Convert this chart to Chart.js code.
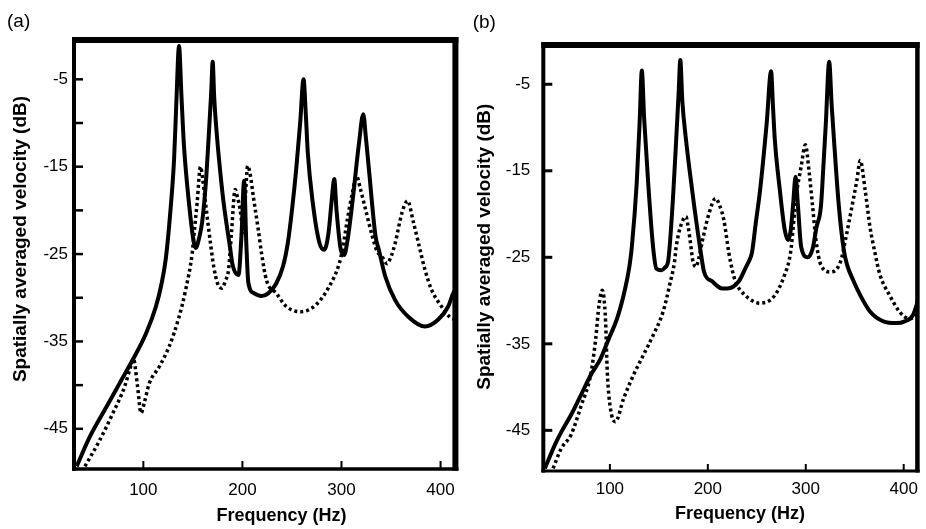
<!DOCTYPE html>
<html>
<head>
<meta charset="utf-8">
<script src="https://cdn.jsdelivr.net/npm/chart.js@4.4.0/dist/chart.umd.min.js"></script>
<style>
  body { margin: 0; background: #fff; }
  #wrapA { position: absolute; left: 0; top: 0; width: 466px; height: 529px; }
  #wrapB { position: absolute; left: 466px; top: 0; width: 460px; height: 529px; }
</style>
</head>
<body>
<div id="wrapA"><canvas id="chartA"></canvas></div>
<div id="wrapB"><canvas id="chartB"></canvas></div>
<script>
// panel (a) - solid curve
const freqSolidA = [32.7, 46, 62.7, 76, 89.3, 102.7, 112.7, 118, 122.7, 127, 131, 133.3, 136, 138.5, 141, 146, 151, 153, 156, 159.3, 163, 166, 168.5, 170, 171.5, 174.3, 178, 181, 187.7, 190, 196, 199, 201.7, 204, 206, 212, 219.3, 226, 234, 241, 246, 250, 254.3, 258.3, 261.7, 264, 266, 271, 277.7, 282.7, 287, 290, 292.7, 295, 299.3, 302.7, 306, 311, 317.7, 322, 324.5, 327.7, 334.3, 337.7, 344.3, 354.3, 367.7, 384.3, 397.7, 407.7, 412.7, 415];
const dbSolidA = [-49.3, -45.9, -42.5, -39.8, -37.1, -34.1, -31.0, -28.6, -25.5, -20.5, -14.2, -7.7, -1.2, -7.0, -12.6, -19.1, -23.7, -24.3, -23.3, -21.4, -17.0, -11.5, -6.5, -3.0, -7.0, -11.5, -16.0, -19.1, -24.4, -26.2, -27.4, -23.0, -16.6, -24.0, -28.3, -29.5, -29.8, -29.5, -28.4, -26.4, -23.6, -20.0, -15.3, -10.0, -5.0, -9.0, -13.4, -19.1, -23.7, -24.5, -22.5, -19.0, -16.4, -20.0, -24.5, -25.1, -23.5, -19.1, -12.3, -9.0, -11.5, -15.3, -22.9, -24.5, -27.6, -30.3, -32.2, -33.3, -32.5, -31.0, -29.5, -29.1];

// panel (a) - dotted curve
const freqDotA = [41, 56, 69.3, 81, 87.7, 90, 94, 97.7, 101, 106, 116, 126, 136, 142.7, 149.3, 151, 154.3, 157.7, 160, 162.7, 167.7, 171, 175, 179.3, 183, 186, 189, 192.7, 195, 197.7, 201, 203, 205.3, 208, 211, 216, 219.3, 224.3, 234.3, 244.3, 259.3, 274.3, 287.7, 297.7, 301, 306, 311, 315.3, 319, 324.3, 331, 336, 341, 346, 350, 354.3, 361, 366.7, 372.7, 379.3, 384.3, 391, 401, 409.3, 415];
const dbDotA = [-49.3, -46.3, -43.2, -40.2, -37.7, -37.0, -40.0, -43.2, -42.0, -39.8, -37.9, -35.6, -32.2, -29.1, -24.9, -22.9, -19.1, -15.0, -16.5, -19.1, -23.7, -26.4, -28.4, -28.9, -28.0, -26.8, -22.5, -17.6, -18.5, -19.9, -22.5, -18.5, -14.9, -16.0, -18.4, -22.2, -24.9, -28.0, -29.5, -31.0, -31.6, -30.8, -28.7, -26.1, -24.5, -21.0, -18.0, -16.1, -17.5, -19.9, -22.9, -24.7, -25.3, -26.1, -25.3, -23.7, -20.3, -18.9, -21.4, -24.5, -26.8, -29.1, -31.0, -32.2, -32.5];

// panel (b) - solid curve
const freqSolidB = [33.6, 43.7, 50.3, 60.4, 70.5, 80.5, 90.5, 98.9, 107.3, 115.6, 120, 122.4, 127.4, 130.5, 132.6, 135, 139.1, 144.1, 147.5, 152.6, 156, 159.4, 161, 164.5, 167.7, 170.2, 171.9, 174, 177.7, 182, 186.1, 192.9, 196.2, 204.6, 214.7, 220, 231.5, 238.2, 243.3, 245, 249, 253.4, 260.1, 264.6, 266.5, 268.4, 273.5, 278.5, 281.8, 284.5, 287, 289.6, 292, 295.3, 302, 307, 311, 315.5, 318, 320.5, 323.9, 326.5, 328.8, 333.8, 338.9, 342.3, 349, 355.7, 365.8, 379.2, 392.6, 401, 409.4, 414.4];
const dbSolidB = [-49.4, -46.7, -45.2, -43.2, -40.9, -38.6, -36.7, -34.4, -32.1, -28.6, -26.0, -23.8, -16.4, -9.0, -3.4, -9.0, -16.4, -23.8, -26.3, -26.5, -26.2, -25.5, -23.8, -18.0, -11.4, -6.0, -2.2, -7.0, -11.4, -15.5, -19.1, -24.5, -26.7, -27.8, -28.6, -28.6, -27.8, -26.3, -25.1, -24.5, -21.0, -17.2, -9.5, -3.5, -7.5, -11.4, -17.2, -21.8, -23.0, -22.0, -19.0, -15.7, -19.0, -23.8, -25.0, -24.0, -21.5, -19.1, -14.5, -9.5, -2.4, -7.5, -11.4, -19.1, -24.2, -25.9, -27.8, -29.4, -31.3, -32.4, -32.6, -32.4, -31.7, -30.1];

// panel (b) - dotted curve
const freqDotB = [42, 50.3, 60.4, 70.5, 80.5, 85.5, 88.9, 92.2, 95.6, 97.3, 100.6, 105.6, 114.1, 124.1, 134.2, 144.2, 154.3, 161, 166, 167.7, 172, 177.7, 180, 182.8, 184.5, 187.8, 191, 194.6, 201.3, 207.9, 212, 216.4, 221.5, 225, 228.2, 238.2, 253.4, 268.4, 278.5, 283.5, 285.2, 290.2, 295.3, 299.6, 303.6, 307, 310.4, 315.5, 325.5, 335.5, 340.5, 347.2, 352.2, 355.6, 360.6, 365.6, 370.7, 375.7, 385.7, 395.8, 405.8, 414.4];
const dbDotB = [-49.4, -47.1, -45.5, -42.2, -38.5, -34.4, -30.5, -28.8, -32.4, -38.2, -42.5, -44.0, -41.3, -38.6, -36.3, -34.0, -31.3, -28.2, -25.5, -23.8, -21.5, -20.3, -21.5, -23.8, -25.3, -26.1, -25.0, -23.0, -19.9, -18.2, -19.0, -20.7, -24.5, -26.5, -27.8, -29.4, -30.3, -29.4, -27.0, -25.1, -23.8, -18.0, -14.5, -12.0, -15.3, -19.1, -23.0, -25.9, -26.7, -25.5, -23.0, -19.1, -16.1, -13.8, -17.2, -21.5, -24.5, -27.0, -29.4, -31.3, -32.1, -31.7];

// ticks
const freqTicks = [100, 200, 300, 400];
const dbTicksA = [-45, -40, -35, -30, -25, -20, -15, -10, -5];
const dbTicksB = [-45, -35, -25, -15, -5];

const xTitle = 'Frequency (Hz)';
const yTitle = 'Spatially averaged velocity (dB)';

function toPoints(xs, ys) {
    return xs.map((x, i) => ({ x: x, y: ys[i] }));
}

// frame, inward ticks and titles
const framePlugin = {
    id: 'frame',
    afterDraw(chart, args, o) {
        const ctx = chart.ctx;
        const a = chart.chartArea;
        const sx = chart.scales.x, sy = chart.scales.y;
        ctx.save();
        ctx.strokeStyle = '#000';
        ctx.fillStyle = '#000';

        ctx.lineWidth = o.yTickWidth;
        sy.ticks.forEach(t => {
            const py = sy.getPixelForValue(t.value);
            ctx.beginPath();
            ctx.moveTo(a.left, py);
            ctx.lineTo(a.left + o.yTickLen, py);
            ctx.stroke();
        });
        ctx.lineWidth = o.xTickWidth;
        sx.ticks.forEach(t => {
            const px = sx.getPixelForValue(t.value);
            ctx.beginPath();
            ctx.moveTo(px, a.bottom);
            ctx.lineTo(px, a.bottom - o.xTickLen);
            ctx.stroke();
        });

        // borders: top, right, bottom, left
        const [bt, br, bb, bl] = o.border;
        ctx.fillRect(a.left - bl / 2, a.top - bt / 2, a.right - a.left + bl / 2 + br / 2, bt);
        ctx.fillRect(a.right - br / 2, a.top - bt / 2, br, a.bottom - a.top + bt / 2 + bb / 2);
        ctx.fillRect(a.left - bl / 2, a.bottom - bb / 2, a.right - a.left + bl / 2 + br / 2, bb);
        ctx.fillRect(a.left - bl / 2, a.top - bt / 2, bl, a.bottom - a.top + bt / 2 + bb / 2);

        ctx.font = '19px "Liberation Sans", Arial, sans-serif';
        ctx.textAlign = 'left';
        ctx.textBaseline = 'middle';
        ctx.fillText(o.label, o.labelX, o.labelY);

        ctx.font = 'bold 18px "Liberation Sans", Arial, sans-serif';
        ctx.textAlign = 'center';
        ctx.fillText(xTitle, o.xTitleX, o.xTitleY);

        ctx.font = 'bold 19px "Liberation Sans", Arial, sans-serif';
        ctx.translate(o.yTitleX, o.yTitleY);
        ctx.rotate(-Math.PI / 2);
        ctx.fillText(yTitle, 0, 0);
        ctx.restore();
    }
};

function makeChart(id, cfg) {
    const tickFont = { family: '"Liberation Sans", Arial, sans-serif', size: 17 };
    new Chart(document.getElementById(id), {
        type: 'line',
        data: {
            datasets: [
                {
                    data: toPoints(cfg.dotX, cfg.dotY),
                    borderColor: '#000',
                    borderWidth: 3.5,
                    borderDash: [3, 3],
                    pointRadius: 0,
                    fill: false,
                    cubicInterpolationMode: 'monotone'
                },
                {
                    data: toPoints(cfg.solidX, cfg.solidY),
                    borderColor: '#000',
                    borderWidth: 4,
                    pointRadius: 0,
                    fill: false,
                    cubicInterpolationMode: 'monotone'
                }
            ]
        },
        options: {
            responsive: true,
            maintainAspectRatio: false,
            animation: false,
            devicePixelRatio: 1,
            layout: { padding: { top: cfg.padTop, right: cfg.padRight, left: 0, bottom: 0 } },
            plugins: {
                legend: { display: false },
                tooltip: { enabled: false },
                frame: cfg.frame
            },
            scales: {
                x: {
                    type: 'linear',
                    min: cfg.xMin,
                    max: cfg.xMax,
                    grid: { display: false, drawTicks: false },
                    border: { display: false },
                    afterBuildTicks: s => { s.ticks = freqTicks.map(v => ({ value: v })); },
                    afterFit: s => { s.height = cfg.xHeight; },
                    ticks: { color: '#000', font: tickFont, padding: cfg.xPad, maxRotation: 0 }
                },
                y: {
                    min: cfg.yMin,
                    max: cfg.yMax,
                    grid: { display: false, drawTicks: false },
                    border: { display: false },
                    afterBuildTicks: s => { s.ticks = cfg.yTicks.map(v => ({ value: v })); },
                    afterFit: s => { s.width = cfg.yWidth; },
                    ticks: {
                        color: '#000',
                        font: tickFont,
                        padding: cfg.yPad,
                        callback: v => (v % 10 === -5 ? String(v) : '')
                    }
                }
            }
        },
        plugins: [framePlugin]
    });
}

makeChart('chartA', {
    solidX: freqSolidA, solidY: dbSolidA, dotX: freqDotA, dotY: dbDotA,
    xMin: 30, xMax: 415, yMin: -49.6, yMax: -0.5, yTicks: dbTicksA,
    padTop: 40, padRight: 7, xHeight: 60, yWidth: 74, xPad: 11, yPad: 6,
    frame: {
        border: [6, 6, 3.5, 4], yTickLen: 9, yTickWidth: 2.5, xTickLen: 8, xTickWidth: 2,
        label: '(a)', labelX: 7, labelY: 22,
        xTitleX: 281.5, xTitleY: 516.5, yTitleX: 20.5, yTitleY: 239
    }
});

makeChart('chartB', {
    solidX: freqSolidB, solidY: dbSolidB, dotX: freqDotB, dotY: dbDotB,
    xMin: 32, xMax: 414, yMin: -49.7, yMax: -0.46, yTicks: dbTicksB,
    padTop: 45, padRight: 3.3, xHeight: 58, yWidth: 77.3, xPad: 8, yPad: 13,
    frame: {
        border: [6, 4.5, 3, 4], yTickLen: 9, yTickWidth: 3, xTickLen: 7, xTickWidth: 2,
        label: '(b)', labelX: 6.7, labelY: 22.5,
        xTitleX: 274, xTitleY: 514, yTitleX: 19, yTitleY: 246.7
    }
});
</script>
</body>
</html>
